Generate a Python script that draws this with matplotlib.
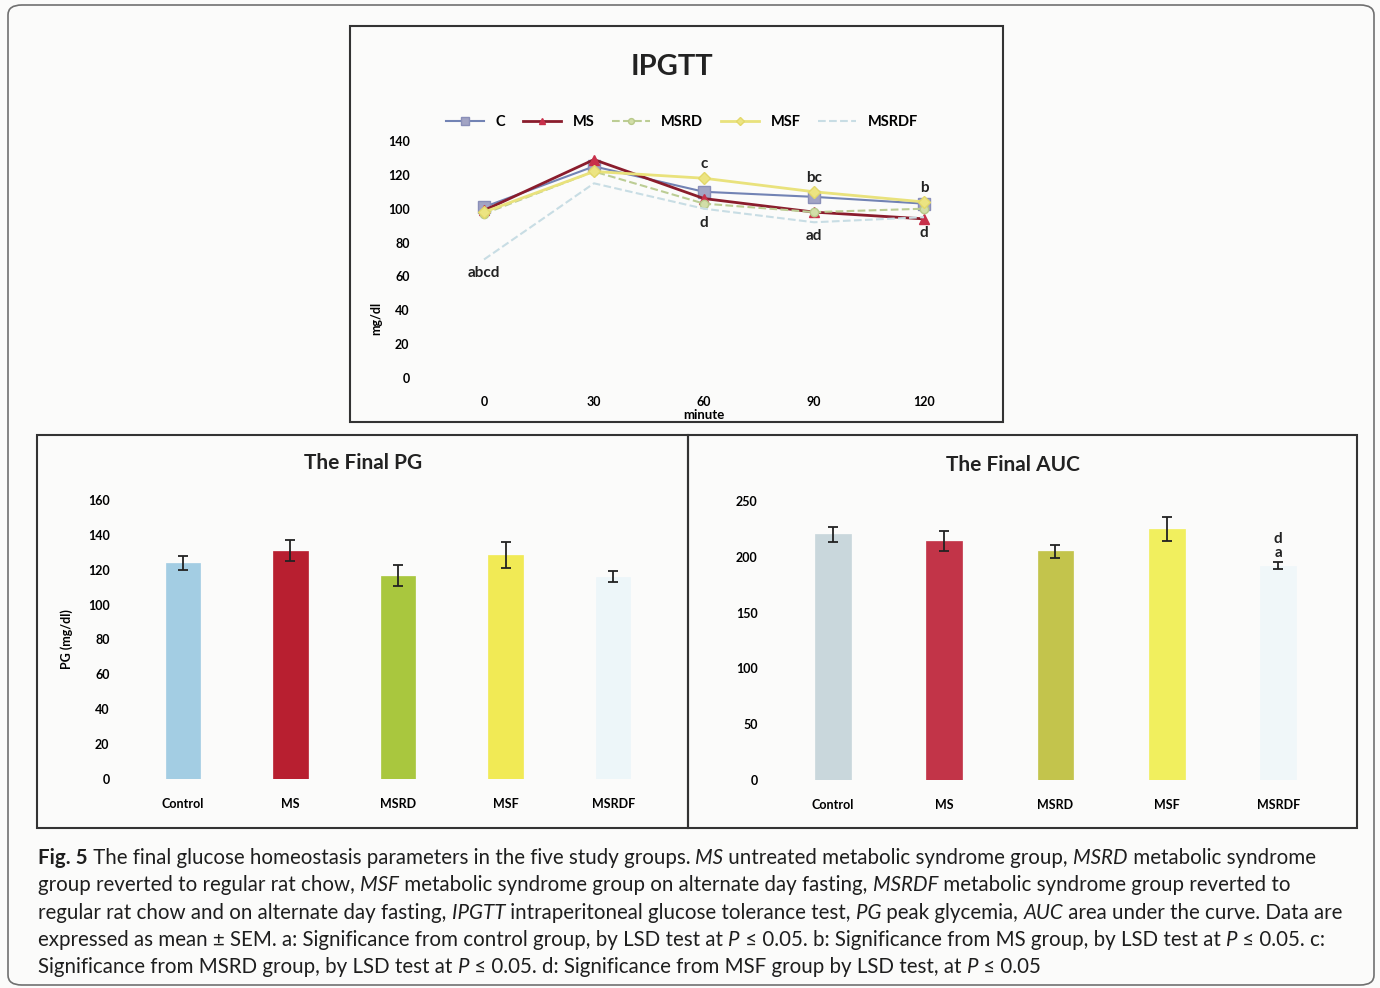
import matplotlib
matplotlib.use("Agg")
import matplotlib.pyplot as plt
from matplotlib.patches import Rectangle, FancyBboxPatch

plt.rcParams['font.family'] = ['Lato', 'DejaVu Sans']

# IPGTT curves (mg/dl) at each minute
minutes = ['0', '30', '60', '90', '120']
ipgtt_c = [101, 125, 110, 107, 103]
ipgtt_ms = [99, 129, 106, 98, 94]
ipgtt_msrd = [97, 122, 103, 98, 100]
ipgtt_msf = [98, 122, 118, 110, 104]
ipgtt_msrdf = [70, 115, 100, 92, 95]

# significance letters on the IPGTT chart: (minute index, series, label, above?)
ipgtt_marks = [(0, 'MSRDF', 'abcd', False), (2, 'MSF', 'c', True), (2, 'MSRDF', 'd', False),
               (3, 'MSF', 'bc', True), (3, 'MSRDF', 'ad', False),
               (4, 'MSF', 'b', True), (4, 'MS', 'd', False)]

groups = ['Control', 'MS', 'MSRD', 'MSF', 'MSRDF']
pg_mean = [124, 131, 116.5, 128.5, 116]
pg_sem = [4, 6, 6, 7.5, 3]
auc_mean = [220, 214, 205, 225, 192]
auc_sem = [7, 9, 6, 11, 3]
auc_marks = ['', '', '', '', 'd\na']

pg_colors = ['#a3cde3', '#b81f30', '#a9c73e', '#f1ea55', '#edf6f9']
auc_colors = ['#c9d7dc', '#c23448', '#c3c44c', '#f1ef5e', '#f0f7f9']

fig = plt.figure(figsize=(13.8, 9.88), dpi=100)
fig.patch.set_facecolor('#fbfbfa')

# frames
fig.patches.append(FancyBboxPatch((8 / 1380, 1 - 985 / 988), 1366 / 1380, 980 / 988,
                                  boxstyle='round,pad=0,rounding_size=0.01',
                                  transform=fig.transFigure, fill=False,
                                  edgecolor='#707070', linewidth=1.2))
for (x0, y0, x1, y1) in [(350, 26, 1003, 422), (37, 435, 688, 828), (688, 435, 1357, 828)]:
    fig.patches.append(Rectangle((x0 / 1380, 1 - y1 / 988), (x1 - x0) / 1380, (y1 - y0) / 988,
                                 transform=fig.transFigure, fill=False,
                                 edgecolor='#333333', linewidth=1.5))

# ---- IPGTT line chart ----
ax = fig.add_axes([429 / 1380, 1 - 378 / 988, 550 / 1380, 237 / 988])
x = range(len(minutes))
series = {
    'C': (ipgtt_c, dict(color='#7283b4', ls='-', lw=1.5, marker='s', ms=8,
                        mfc='#a2a4c4', mec='#8a8fb8')),
    'MS': (ipgtt_ms, dict(color='#8a1c2c', ls='-', lw=2, marker='^', ms=7,
                          mfc='#c8304a', mec='#c8304a')),
    'MSRD': (ipgtt_msrd, dict(color='#bccd94', ls='--', lw=1.5, marker='o', ms=6,
                              mfc='#d2dea8', mec='#b8c98a')),
    'MSF': (ipgtt_msf, dict(color='#e9e27c', ls='-', lw=2, marker='D', ms=6,
                            mfc='#ece482', mec='#e3d86a')),
    'MSRDF': (ipgtt_msrdf, dict(color='#c8dde4', ls='--', lw=1.5)),
}
for name, (vals, style) in series.items():
    ax.plot(x, vals, label=name, **style)

for idx, name, lab, above in ipgtt_marks:
    yv = series[name][0][idx]
    ax.annotate(lab, (idx, yv), xytext=(0, 5 if above else -5), textcoords='offset points',
                ha='center', va='bottom' if above else 'top', fontsize=11,
                fontweight='bold', color='#222222')

ax.set_xlim(-0.5, len(minutes) - 0.5)
ax.set_ylim(0, 140)
ax.set_yticks(range(0, 141, 20))
ax.set_xticks(list(x))
ax.set_xticklabels(minutes)
for s in ax.spines.values():
    s.set_visible(False)
ax.tick_params(length=0, labelsize=9, pad=14)
ax.tick_params(axis='x', pad=13)
for t in ax.get_xticklabels() + ax.get_yticklabels():
    t.set_fontweight('bold')
ax.set_facecolor('none')
ax.set_ylabel('mg/dl', fontsize=9, fontweight='bold', labelpad=4)
ax.yaxis.set_label_coords(-0.085, 0.25)
ax.set_xlabel('minute', fontsize=9.5, fontweight='bold', va='center')
ax.xaxis.set_label_coords(0.5, -0.158)
ax.legend(loc='lower center', bbox_to_anchor=(0.46, 0.995), ncol=5, frameon=False,
          handlelength=2.6, columnspacing=1.2, markerscale=0.7,
          prop={'weight': 'bold', 'size': 10.5})
fig.text(672 / 1380, 1 - 67 / 988, 'IPGTT', ha='center', va='center', fontsize=21,
         fontweight='bold', color='#222222')


def bar_panel(rect, means, sems, colors, ymax, step, title, title_xy, ylabel=None, marks=None):
    bx = fig.add_axes(rect)
    xs = range(len(groups))
    bx.bar(xs, means, width=0.32, color=colors, edgecolor=colors, linewidth=0.5)
    bx.errorbar(xs, means, yerr=sems, fmt='none', ecolor='#222222', elinewidth=1.3,
                capsize=3.5, capthick=1.3)
    if marks:
        for i, m in enumerate(marks):
            if m:
                bx.annotate(m, (i, means[i] + sems[i]), xytext=(0, 2),
                            textcoords='offset points', ha='center', va='bottom',
                            fontsize=11, fontweight='bold', linespacing=1.0,
                            color='#222222')
    bx.set_xlim(-0.5, len(groups) - 0.5)
    bx.set_ylim(0, ymax)
    bx.set_yticks(range(0, ymax + 1, step))
    bx.set_xticks(list(xs))
    bx.set_xticklabels(groups)
    for s in bx.spines.values():
        s.set_visible(False)
    bx.tick_params(length=0, labelsize=9)
    bx.tick_params(axis='y', pad=14)
    bx.tick_params(axis='x', pad=14)
    for t in bx.get_xticklabels() + bx.get_yticklabels():
        t.set_fontweight('bold')
    bx.set_facecolor('none')
    if ylabel:
        bx.set_ylabel(ylabel, fontsize=9, fontweight='bold')
        bx.yaxis.set_label_coords(-0.105, 0.5)
    fig.text(title_xy[0] / 1380, 1 - title_xy[1] / 988, title, ha='center', va='center',
             fontsize=15, fontweight='bold', color='#222222')
    return bx


bar_panel([129 / 1380, 1 - 779 / 988, 538 / 1380, 279 / 988], pg_mean, pg_sem, pg_colors,
          160, 20, 'The Final PG', (363, 463), ylabel='PG (mg/dl)')
bar_panel([777 / 1380, 1 - 780 / 988, 557 / 1380, 279 / 988], auc_mean, auc_sem, auc_colors,
          250, 50, 'The Final AUC', (1013, 465), marks=auc_marks)

# ---- caption with italic runs ----
caption = [
    [('Fig. 5', 'b'), (' The final glucose homeostasis parameters in the five study groups. ', 'n'),
     ('MS', 'i'), (' untreated metabolic syndrome group, ', 'n'), ('MSRD', 'i'),
     (' metabolic syndrome', 'n')],
    [('group reverted to regular rat chow, ', 'n'), ('MSF', 'i'),
     (' metabolic syndrome group on alternate day fasting, ', 'n'), ('MSRDF', 'i'),
     (' metabolic syndrome group reverted to', 'n')],
    [('regular rat chow and on alternate day fasting, ', 'n'), ('IPGTT', 'i'),
     (' intraperitoneal glucose tolerance test, ', 'n'), ('PG', 'i'), (' peak glycemia, ', 'n'),
     ('AUC', 'i'), (' area under the curve. Data are', 'n')],
    [('expressed as mean \u00b1 SEM. a: Significance from control group, by LSD test at ', 'n'),
     ('P', 'i'), (' \u2264 0.05. b: Significance from MS group, by LSD test at ', 'n'), ('P', 'i'),
     (' \u2264 0.05. c:', 'n')],
    [('Significance from MSRD group, by LSD test at ', 'n'), ('P', 'i'),
     (' \u2264 0.05. d: Significance from MSF group by LSD test, at ', 'n'), ('P', 'i'),
     (' \u2264 0.05', 'n')],
]
renderer = fig.canvas.get_renderer()
cap_size = 14.8


def run_width(s, kw):
    t1 = fig.text(0, 0, 'x' + s + 'x', **kw)
    t2 = fig.text(0, 0, 'xx', **kw)
    w = t1.get_window_extent(renderer).width - t2.get_window_extent(renderer).width
    t1.remove()
    t2.remove()
    return w


for li, line in enumerate(caption):
    xpix = 38
    ypix = 858 + li * 27.3
    for s, st in line:
        kw = dict(fontsize=cap_size, color='#1e1e1e', va='center', ha='left')
        if st == 'b':
            kw['fontweight'] = 'bold'
        elif st == 'i':
            kw['fontstyle'] = 'italic'
        fig.text(xpix / 1380, 1 - ypix / 988, s, **kw)
        xpix += run_width(s, kw)

fig.savefig('out.png', dpi=100, facecolor=fig.get_facecolor())
